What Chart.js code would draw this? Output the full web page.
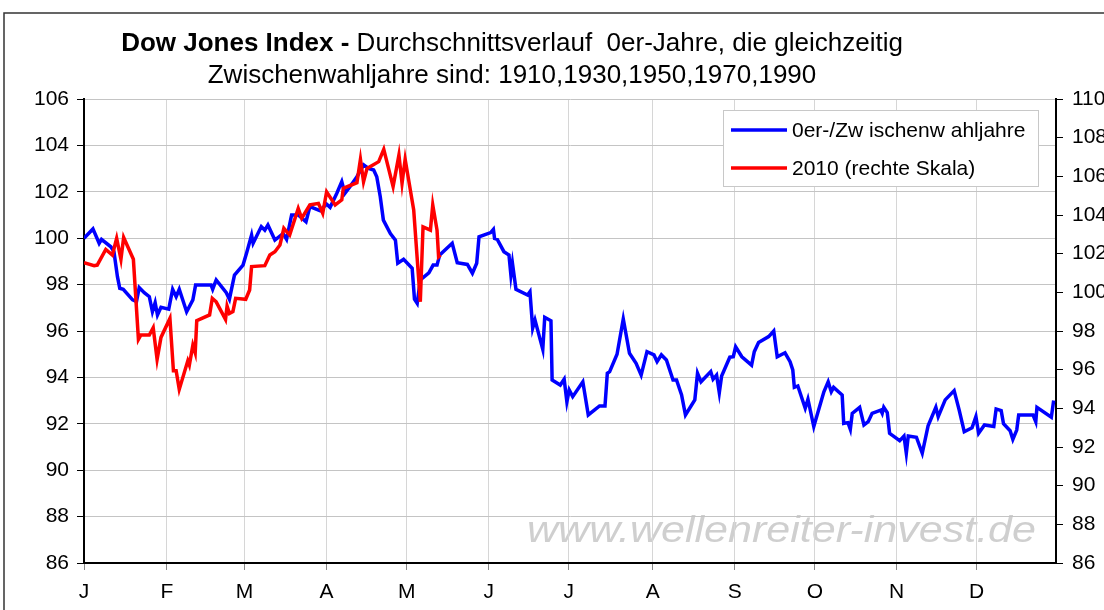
<!DOCTYPE html>
<html>
<head>
<meta charset="utf-8">
<script src="https://cdn.jsdelivr.net/npm/chart.js@4"></script>
<style>
  html, body { margin: 0; padding: 0; background: #fff; }
  #wrap { width: 1104px; height: 610px; position: relative; }
</style>
</head>
<body>
<div id="wrap"><canvas id="dowChart"></canvas></div>
<script>
// Dow Jones - average path of decade (0er) years that are also midterm years

const monthLabels = ["J", "F", "M", "A", "M", "J", "J", "A", "S", "O", "N", "D"];
// month starts in trading days
const monthStarts = [0, 21.3, 41.3, 62.4, 83, 104.1, 124.7, 146.3, 167.4, 188, 209, 229.6];

// blue: average of 0er / midterm years (left scale)
const avgDays = [
  0, 2.3, 3.9, 4.5, 6.9, 7.7, 8.6, 9.2, 10.1, 12.5, 13.5, 14.2, 15.5, 16.8, 17.6, 18.3, 18.9, 19.8,
  21.8, 22.8, 23.7, 24.5, 26.4, 28, 28.7, 32.7, 33.1, 34, 36.6, 37.4, 38.7, 40.9, 41.8, 43.1, 43.5,
  45.6, 46.5, 47.3, 49.1, 51.2, 52.1, 53.4, 55.1, 57.1, 58.1, 60.7, 62.4, 63.3, 65, 66.3, 67.1, 68.4,
  70.2, 71.9, 73.2, 74.5, 75.3, 76.2, 77, 78.8, 80.1, 80.7, 82.2, 84.4, 85, 85.7, 86.5, 88.7, 89.8,
  90.8, 91.5, 94.7, 96, 98.6, 99.9, 101, 101.6, 104.6, 105.3, 105.6, 106.3, 108, 109.3, 109.8, 110.2,
  111.1, 114.1, 114.7, 115.4, 116, 118, 118.5, 120.1, 120.4, 122.5, 123.5, 124.2, 124.8, 125.7, 128.3,
  129.7, 132.6, 134, 134.6, 135.2, 137.1, 138.7, 140.3, 142, 143.3, 144.8, 146.6, 147.4, 148.5, 149.8,
  151.5, 152.4, 153.7, 154.7, 157.1, 157.8, 158.7, 161.2, 161.8, 162.7, 163.4, 164, 166.1, 167, 167.6,
  169.2, 171.7, 172.4, 173.5, 176.1, 177.4, 178.3, 180.3, 181.6, 182.3, 182.7, 183.6, 185.5, 186.2,
  187.7, 190.3, 191.4, 192.2, 192.8, 195, 195.4, 196.5, 197.1, 197.6, 199.5, 200.6, 201.7, 202.7,
  204.9, 205.3, 205.7, 206.6, 207.2, 209.8, 210.9, 211.5, 212, 214.1, 215.6, 217.1, 219.1, 219.7,
  221.5, 223.8, 225.1, 226.4, 228.4, 229.4, 230.1, 231.6, 234, 234.6, 235.9, 236.5, 238.2, 238.9,
  239.9, 240.4, 244.1, 244.8, 245.1, 248.8, 249.4
];
const avgValues = [
  100.0, 100.4, 99.78, 99.95, 99.63, 99.42, 98.34, 97.84, 97.8, 97.34, 97.27, 97.87, 97.65, 97.48, 96.83, 97.22, 96.69, 97.02,
  96.94, 97.8, 97.48, 97.8, 96.83, 97.34, 97.98, 97.98, 97.8, 98.2, 97.65, 97.37, 98.41, 98.84, 99.35, 100.14, 99.78,
  100.5, 100.35, 100.57, 99.92, 100.2, 99.95, 101.0, 101.0, 100.71, 101.36, 101.19, 101.47, 101.33, 101.93, 102.44, 101.93, 102.22,
  102.65, 103.16, 103.01, 102.94, 102.65, 101.79, 100.78, 100.2, 99.92, 98.92, 99.09, 98.7, 97.37, 97.19, 98.2, 98.51, 98.84,
  98.84, 99.28, 99.78, 98.94, 98.87, 98.49, 98.92, 100.06, 100.24, 100.38, 99.99, 99.95, 99.42, 99.28, 98.41, 98.92,
  97.8, 97.55, 97.69, 96.12, 96.47, 95.21, 96.59, 96.44, 93.89, 93.67, 93.92, 92.95, 93.46, 93.17, 93.81,
  92.38, 92.77, 92.77, 94.18, 94.25, 95.0, 96.52, 95.04, 94.61, 94.1, 95.11, 94.97, 94.68, 94.97, 94.75,
  93.89, 93.89, 93.24, 92.38, 93.03, 94.18, 93.81, 94.25, 93.92, 94.1, 93.34, 94.06, 94.87, 94.89, 95.32,
  94.89, 94.53, 95.11, 95.5, 95.76, 96.0, 94.89, 95.06, 94.68, 94.32, 93.57, 93.63, 92.67, 93.06,
  91.88, 93.38, 93.81, 93.38, 93.57, 93.24, 92.02, 92.05, 91.76, 92.45, 92.71, 91.95, 92.09, 92.45,
  92.59, 92.45, 92.71, 92.48, 91.59, 91.27, 91.47, 90.73, 91.47, 91.42, 90.73, 91.91, 92.71, 92.31,
  93.03, 93.43, 92.59, 91.66, 91.83, 92.31, 91.59, 91.95, 91.88, 92.64, 92.57, 92.0, 91.7, 91.33,
  91.73, 92.38, 92.38, 92.09, 92.71, 92.28, 93.0
];

// red: 2010 (right scale)
const y2010Days = [
  0, 2.6, 3.4, 5.6, 7.3, 8.4, 9.5, 10.2, 12.7, 14, 14.6, 16.8, 17.8, 18.8, 19.8, 22.1, 23, 23.7,
  24.5, 26.7, 27.1, 28, 28.6, 29, 32.3, 33, 34, 36.4, 36.8, 37.4, 38.3, 39, 41.6, 42.6, 43.1, 46.5,
  47.8, 49.1, 50.4, 51.4, 52.9, 55.1, 56, 58.1, 60.3, 61.4, 62.4, 64.6, 66.3, 66.7, 70.2, 71.1,
  71.9, 72.8, 75.8, 77.1, 79.5, 81, 81.8, 82.6, 84.8, 86.5, 87.2, 89.1, 89.7, 90.8, 91.2, 91.7
];
const y2010Values = [
  101.53, 101.38, 101.41, 102.22, 101.93, 102.79, 101.71, 102.84, 101.71, 97.57, 97.79, 97.79, 98.17, 96.53, 97.67, 98.65, 95.94, 95.94,
  94.98, 96.46, 96.24, 97.27, 96.88, 98.53, 98.83, 99.69, 99.51, 98.6, 99.29, 98.91, 99.0, 99.69, 99.64, 100.12, 101.33, 101.38,
  101.93, 102.1, 102.45, 103.31, 102.96, 104.34, 103.83, 104.52, 104.6, 104.09, 105.2, 104.52, 104.78, 105.38, 105.67, 106.88,
  105.72, 106.41, 106.76, 107.4, 105.47, 107.1, 105.64, 106.88, 104.26, 99.51, 103.39, 103.22, 104.52, 103.22, 101.84, 101.93
];

const seriesLabels = ["0er-/Zw ischenw ahljahre", "2010 (rechte Skala)"];

const FONT = "'Liberation Sans', Arial, sans-serif";

const toPoints = (xs, ys) => xs.map((x, i) => ({ x: x, y: ys[i] }));

// frame, title, watermark and legend drawn by hand (Excel style)
const decorPlugin = {
  id: "decor",
  beforeDraw(chart) {
    const ctx = chart.ctx;
    ctx.save();
    ctx.fillStyle = "#fff";
    ctx.fillRect(0, 0, chart.width, chart.height);

    // outer frame
    ctx.strokeStyle = "#333";
    ctx.lineWidth = 1.5;
    ctx.strokeRect(4, 13, 1200, 700);

    // watermark
    const wm = "www.wellenreiter-invest.de";
    ctx.font = "italic 36px " + FONT;
    ctx.fillStyle = "#cfcfcf";
    ctx.textBaseline = "alphabetic";
    const w = ctx.measureText(wm).width;
    ctx.translate(527, 542);
    ctx.scale(509 / w, 1);
    ctx.fillText(wm, 0, 0);
    ctx.restore();

    // title
    ctx.save();
    ctx.fillStyle = "#000";
    ctx.textBaseline = "alphabetic";
    const boldPart = "Dow Jones Index - ";
    const restPart = "Durchschnittsverlauf  0er-Jahre, die gleichzeitig";
    ctx.font = "bold 26px " + FONT;
    const bw = ctx.measureText(boldPart).width;
    ctx.font = "26px " + FONT;
    const rw = ctx.measureText(restPart).width;
    let x0 = 512 - (bw + rw) / 2;
    ctx.font = "bold 26px " + FONT;
    ctx.fillText(boldPart, x0, 51);
    ctx.font = "26px " + FONT;
    ctx.fillText(restPart, x0 + bw, 51);
    ctx.textAlign = "center";
    ctx.fillText("Zwischenwahljahre sind: 1910,1930,1950,1970,1990", 512, 83);
    ctx.restore();
  },
  afterDraw(chart) {
    const ctx = chart.ctx;
    ctx.save();
    // legend box
    ctx.fillStyle = "#fff";
    ctx.fillRect(723, 110, 315, 76);
    ctx.strokeStyle = "#c8c8c8";
    ctx.lineWidth = 1;
    ctx.strokeRect(723.5, 110.5, 315, 76);
    ctx.font = "21px " + FONT;
    ctx.textBaseline = "middle";
    ctx.fillStyle = "#000";
    const rows = [
      { y: 130, color: chart.data.datasets[0].borderColor, text: seriesLabels[0] },
      { y: 168, color: chart.data.datasets[1].borderColor, text: seriesLabels[1] },
    ];
    rows.forEach((r) => {
      ctx.strokeStyle = r.color;
      ctx.lineWidth = 3.5;
      ctx.beginPath();
      ctx.moveTo(731, r.y);
      ctx.lineTo(787, r.y);
      ctx.stroke();
      ctx.fillText(r.text, 792, r.y + 1);
    });
    ctx.restore();
  },
};

document.addEventListener("DOMContentLoaded", () => {
  const ctx = document.getElementById("dowChart");

  new Chart(ctx, {
    type: "line",
    data: {
      datasets: [
        {
          label: seriesLabels[0],
          data: toPoints(avgDays, avgValues),
          borderColor: "#0000ff",
          borderWidth: 3.5,
          pointRadius: 0,
          tension: 0,
          yAxisID: "y",
          order: 2,
        },
        {
          label: seriesLabels[1],
          data: toPoints(y2010Days, y2010Values),
          borderColor: "#ff0000",
          borderWidth: 3.5,
          pointRadius: 0,
          tension: 0,
          yAxisID: "y2",
          order: 1,
        },
      ],
    },
    options: {
      responsive: true,
      maintainAspectRatio: false,
      animation: false,
      layout: { padding: { top: 99, left: 0, right: 0, bottom: 0 } },
      plugins: {
        legend: { display: false },
        title: { display: false },
        tooltip: { enabled: false },
      },
      scales: {
        x: {
          type: "linear",
          min: 0,
          max: 250,
          afterBuildTicks: (scale) => {
            scale.ticks = monthStarts.map((v) => ({ value: v }));
          },
          afterFit: (scale) => {
            scale.height = 47;
          },
          ticks: {
            autoSkip: false,
            maxRotation: 0,
            color: "#000",
            padding: 10,
            font: { family: FONT, size: 21 },
            callback: (value, index) => monthLabels[index],
          },
          grid: {
            color: "#d6d6d6",
            tickColor: "#888",
            tickLength: 7,
          },
          border: { color: "#000", width: 2 },
        },
        y: {
          position: "left",
          min: 86,
          max: 106,
          afterFit: (scale) => {
            scale.width = 84;
          },
          ticks: {
            stepSize: 2,
            color: "#000",
            padding: 8,
            font: { family: FONT, size: 21 },
          },
          grid: {
            color: "#c4c4c4",
            tickColor: "#000",
            tickLength: 7,
          },
          border: { color: "#000", width: 2 },
        },
        y2: {
          position: "right",
          min: 86,
          max: 110,
          afterFit: (scale) => {
            scale.width = 48;
          },
          ticks: {
            stepSize: 2,
            color: "#000",
            padding: 9,
            font: { family: FONT, size: 21 },
          },
          grid: {
            drawOnChartArea: false,
            tickColor: "#000",
            tickLength: 7,
          },
          border: { color: "#000", width: 2 },
        },
      },
    },
    plugins: [decorPlugin],
  });
});
</script>
</body>
</html>
